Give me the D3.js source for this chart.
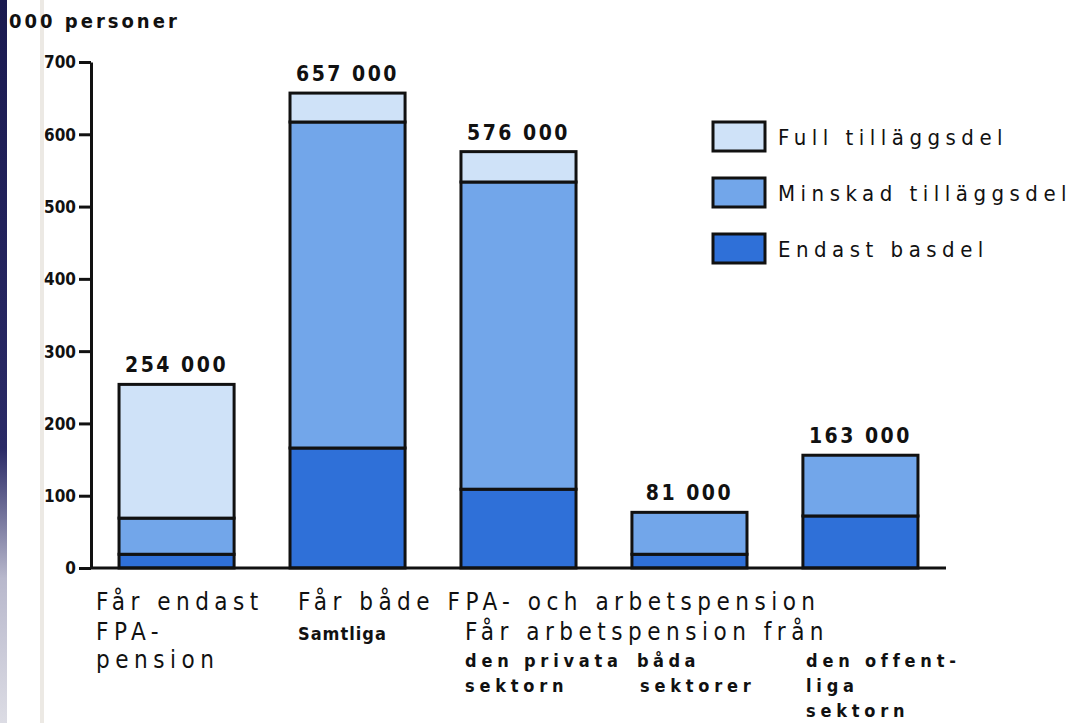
<!DOCTYPE html>
<html><head><meta charset="utf-8">
<script src="https://cdn.jsdelivr.net/npm/d3@7"></script>
<style>
body{margin:0;background:#fff;}
svg{display:block;}
text{font-family:"DejaVu Sans Condensed","DejaVu Sans",sans-serif;fill:#111;}
</style></head><body>
<svg id="c" width="1075" height="723"></svg>
<script>
const categories = ["endast","samtliga","privata","bada","offentliga"];
const endastBasdel = [19, 166, 109, 19, 72];
const minskadTillagg = [50, 451, 425, 58, 84];
const fullTillagg = [185, 40, 42, 0, 0];
const totalLabels = ["254 000","657 000","576 000","81 000","163 000"];
const yTicks = [0,100,200,300,400,500,600,700];
const seriesNames = ["Full tilläggsdel","Minskad tilläggsdel","Endast basdel"];
const seriesKeys = ["full","minskad","basdel"];
const colors = {full:"#cfe2f8", minskad:"#72a6ea", basdel:"#2f70d8"};

const svg = d3.select("#c");
// scan edge
const defs = svg.append("defs");
const grad = defs.append("linearGradient").attr("id","edge").attr("x1",0).attr("x2",0).attr("y1",0).attr("y2",1);
grad.append("stop").attr("offset","0%").attr("stop-color","#1a1a50");
grad.append("stop").attr("offset","62%").attr("stop-color","#2a2a66");
grad.append("stop").attr("offset","80%").attr("stop-color","#b8b8cc");
grad.append("stop").attr("offset","100%").attr("stop-color","#dcdce4");
svg.append("rect").attr("x",0).attr("y",0).attr("width",7).attr("height",723).attr("fill","url(#edge)");
svg.append("rect").attr("x",40).attr("y",0).attr("width",4).attr("height",723).attr("fill","#ece9e4");

const y = d3.scaleLinear().domain([0,700]).range([568,62]);
const x = d3.scaleBand().domain(categories).range([91,946]).paddingInner(0.327).paddingOuter(0.164);

const data = categories.map((c,i)=>({cat:c, basdel:endastBasdel[i], minskad:minskadTillagg[i], full:fullTillagg[i]}));
const stack = d3.stack().keys(["basdel","minskad","full"])(data);

const g = svg.append("g");
stack.forEach(layer=>{
  g.selectAll(null).data(layer.filter(d=>d[1]>d[0])).enter().append("rect")
    .attr("x",d=>x(d.data.cat))
    .attr("y",d=>y(d[1]))
    .attr("width",x.bandwidth())
    .attr("height",d=>y(d[0])-y(d[1]))
    .attr("fill",colors[layer.key])
    .attr("stroke","#111").attr("stroke-width",3);
});

// total labels
g.selectAll(null).data(data).enter().append("text")
  .attr("x",d=>x(d.cat)+x.bandwidth()/2)
  .attr("y",(d,i)=>y(d.basdel+d.minskad+d.full)-12)
  .attr("text-anchor","middle").attr("font-size",21).attr("font-weight","bold")
  .attr("letter-spacing","2.5px")
  .text((d,i)=>totalLabels[i]);

// y axis
const yAxis = d3.axisLeft(y).tickValues(yTicks).tickSize(12).tickPadding(3).tickSizeOuter(0);
const ya = svg.append("g").attr("transform","translate(91,0)").call(yAxis);
ya.select(".domain").attr("stroke","#111").attr("stroke-width",3);
ya.selectAll(".tick line").attr("stroke","#111").attr("stroke-width",3);
ya.selectAll(".tick text").attr("font-size",17).attr("font-weight","bold")
  .attr("font-family","'DejaVu Sans Condensed','DejaVu Sans',sans-serif").attr("fill","#222").attr("dy","0.35em");
// x axis line
svg.append("line").attr("x1",91).attr("x2",946).attr("y1",y(0)).attr("y2",y(0)).attr("stroke","#111").attr("stroke-width",3);

// axis title
svg.append("text").attr("x",9).attr("y",28).attr("font-size",20).attr("font-weight","bold")
  .attr("letter-spacing","3px").text("000 personer");

// legend
const lg = svg.append("g");
seriesKeys.forEach((k,i)=>{
  const yy = 122 + i*56;
  lg.append("rect").attr("x",713).attr("y",yy).attr("width",52).attr("height",29)
    .attr("fill",colors[k]).attr("stroke","#111").attr("stroke-width",3);
  lg.append("text").attr("x",778).attr("y",yy+23).attr("font-size",22)
    .attr("letter-spacing","5.5px").text(seriesNames[i]);
});

// category labels
const bigLabels = [
  ["Får endast",96,610],["FPA-",96,640],["pension",96,668],
  ["Får både FPA- och arbetspension",298,610],
  ["Får arbetspension från",465,640]
];
const smallLabels = [
  ["Samtliga",298,640,1],
  ["den privata",465,667,4.8],["sektorn",465,692,4.8],
  ["båda",637,667,4.5],["sektorer",640,692,4.8],
  ["den offent-",806,667,4.8],["liga",806,692,4.8],["sektorn",806,717,4.8]
];
svg.selectAll(null).data(bigLabels).enter().append("text")
  .attr("x",d=>d[1]).attr("y",d=>d[2]).attr("font-size",24).attr("letter-spacing","5.5px").text(d=>d[0]);
svg.selectAll(null).data(smallLabels).enter().append("text")
  .attr("x",d=>d[1]).attr("y",d=>d[2]).attr("font-size",18).attr("font-weight","bold")
  .attr("letter-spacing",d=>d[3]+"px").text(d=>d[0]);
</script>
</body></html>
